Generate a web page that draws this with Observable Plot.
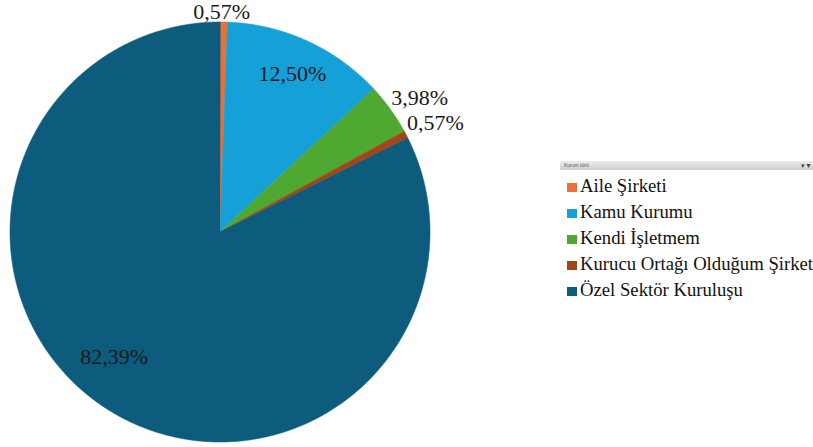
<!DOCTYPE html>
<html>
<head>
<meta charset="utf-8">
<script src="https://cdn.jsdelivr.net/npm/d3@7"></script>
<script src="https://cdn.jsdelivr.net/npm/@observablehq/plot@0.6"></script>
<style>
  html, body { margin: 0; padding: 0; background: #fff; }
  #wrap { position: relative; width: 813px; height: 447px; overflow: hidden; font-family: 'Liberation Serif'; }
  #chart { position: absolute; left: 0; top: 0; }
  #legend { position: absolute; left: 560px; top: 161px; width: 260px; }
  #legend .hdr { height: 9px; background: linear-gradient(#ececec, #cfcfcf); position: relative; font-family: 'Liberation Sans'; font-size: 5px; line-height: 9px; color: #555; padding-left: 4px; box-sizing: border-box; }
  #legend .hdr .ico { position: absolute; right: 8px; top: 0; font-size: 7px; color: #444; }
  #legend .row { position: relative; height: 26px; font-size: 18.7px; color: #111; white-space: nowrap; }
  #legend .sw { position: absolute; left: 7px; top: 9px; width: 10px; height: 9px; }
  #legend .lab { position: absolute; left: 20px; top: 2px; line-height: 20px; font-family: 'Liberation Serif'; }
</style>
</head>
<body>
<div id="wrap">
  <div id="chart"></div>
  <div id="legend"></div>
</div>
<script>
// ---- data ----
const categories = ["Aile Şirketi", "Kamu Kurumu", "Kendi İşletmem", "Kurucu Ortağı Olduğum Şirket", "Özel Sektör Kuruluşu"];
const shares = [0.57, 12.50, 3.98, 0.57, 82.39];
const shareLabels = ["0,57%", "12,50%", "3,98%", "0,57%", "82,39%"];
const colors = ["#EB7035", "#15A0D8", "#4EA832", "#A44419", "#0D5B7D"];
const legendTitle = "Kurum türü";

// ---- layout ----
const W = 813, H = 447;
const cx = 219.5, cy = 231.5, R = 210;
const total = d3.sum(shares);
const FONT = "Liberation Serif";

const slices = [];
let acc = 0;
shares.forEach((v, i) => {
  const a0 = acc / total * 2 * Math.PI;
  acc += v;
  const a1 = acc / total * 2 * Math.PI;
  slices.push({cat: categories[i], value: v, label: shareLabels[i], a0, a1, mid: (a0 + a1) / 2});
});

// polygon vertices for each slice, derived from its angles
const pts = [];
for (const s of slices) {
  pts.push({cat: s.cat, x: cx, y: cy});
  const n = Math.max(2, Math.ceil((s.a1 - s.a0) / (Math.PI / 720)));
  for (let k = 0; k <= n; k++) {
    const a = s.a0 + (s.a1 - s.a0) * k / n;
    pts.push({cat: s.cat, x: cx + R * Math.sin(a), y: cy - R * Math.cos(a)});
  }
}

// label anchors
const inside = [], outStart = [], outMid = [];
for (const s of slices) {
  const share = s.value / total;
  if (share > 0.1) {
    const rr = R * (share > 0.5 ? 0.78 : 0.83);
    const a = share > 0.5 ? s.mid + 0.15 : s.mid;
    inside.push({label: s.label, x: cx + rr * Math.sin(a), y: cy - rr * Math.cos(a)});
  } else {
    const rr = R + 1;
    const p = {label: s.label, x: cx + rr * Math.sin(s.mid), y: cy - rr * Math.cos(s.mid)};
    if (Math.sin(s.mid) > 0.3) outStart.push(p); else outMid.push(p);
  }
}

const chart = Plot.plot({
  width: W,
  height: H,
  margin: 0,
  x: {domain: [0, W], range: [0, W], axis: null},
  y: {domain: [0, H], range: [0, H], axis: null},
  color: {domain: categories, range: colors},
  style: {background: "transparent", overflow: "visible", fontFamily: FONT},
  marks: [
    Plot.line(pts, {x: "x", y: "y", z: "cat", fill: "cat", stroke: "cat", strokeWidth: 0.6, curve: "linear-closed"}),
    Plot.text(inside, {x: "x", y: "y", text: "label", fontSize: 22, fontFamily: FONT, fill: "#1a1a1a", textAnchor: "middle", lineAnchor: "middle"}),
    Plot.text(outStart, {x: "x", y: "y", text: "label", fontSize: 22, fontFamily: FONT, fill: "#1a1a1a", textAnchor: "start", lineAnchor: "bottom", dx: 0, dy: -4}),
    Plot.text(outMid, {x: "x", y: "y", text: "label", fontSize: 22, fontFamily: FONT, fill: "#1a1a1a", textAnchor: "middle", lineAnchor: "bottom", dx: -2, dy: -2})
  ]
});
document.getElementById("chart").appendChild(chart);

// legend
const lg = document.getElementById("legend");
const hdr = document.createElement("div");
hdr.className = "hdr";
hdr.textContent = legendTitle;
const ico = document.createElement("span");
ico.className = "ico";
ico.textContent = "▾▼";
hdr.appendChild(ico);
lg.appendChild(hdr);
const gap = document.createElement("div");
gap.style.height = "4px";
lg.appendChild(gap);
categories.forEach((c, i) => {
  const row = document.createElement("div");
  row.className = "row";
  const sw = document.createElement("span");
  sw.className = "sw";
  sw.style.background = colors[i];
  const lab = document.createElement("span");
  lab.className = "lab";
  lab.textContent = c;
  row.appendChild(sw);
  row.appendChild(lab);
  lg.appendChild(row);
});
</script>
</body>
</html>
